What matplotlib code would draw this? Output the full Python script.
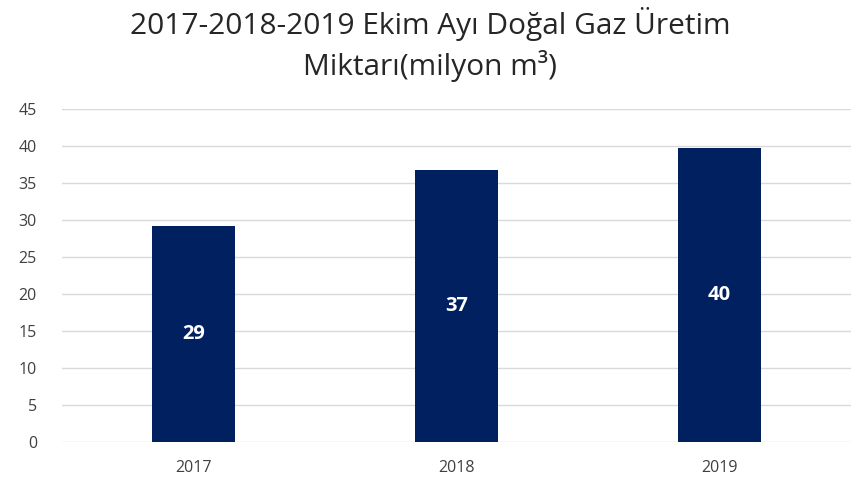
import matplotlib
matplotlib.use('Agg')
import matplotlib.pyplot as plt

plt.rcParams['font.family'] = ['Open Sans', 'DejaVu Sans']

# values
years = ['2017', '2018', '2019']
production = [29.2, 36.8, 39.7]
labels = ['29', '37', '40']

fig = plt.figure(figsize=(8.6, 4.84), dpi=100)
ax = fig.add_axes([0.072, 0.0868, 0.9175, 0.688])

bars = ax.bar(years, production, width=0.315, color='#002060', zorder=3)
for b, lab in zip(bars, labels):
    ax.text(b.get_x() + b.get_width() / 2, b.get_height() / 2, lab,
            ha='center', va='center', color='white', fontsize=14.5,
            fontweight='bold', zorder=4)

ax.set_ylim(0, 45)
ax.set_xlim(-0.5, 2.5)
ax.set_yticks(range(0, 46, 5))
ax.grid(axis='y', color='#d9d9d9', linewidth=1, zorder=0)
for s in ax.spines.values():
    s.set_visible(False)
ax.tick_params(length=0, colors='#404040', labelsize=11.5)
ax.tick_params(axis='x', pad=13)
ax.tick_params(axis='y', pad=18)

fig.suptitle('2017-2018-2019 Ekim Ayı Doğal Gaz Üretim\nMiktarı(milyon m³)',
             fontsize=21.5, color='#262626', y=0.985, linespacing=1.35)

fig.savefig('out.png', dpi=100)
